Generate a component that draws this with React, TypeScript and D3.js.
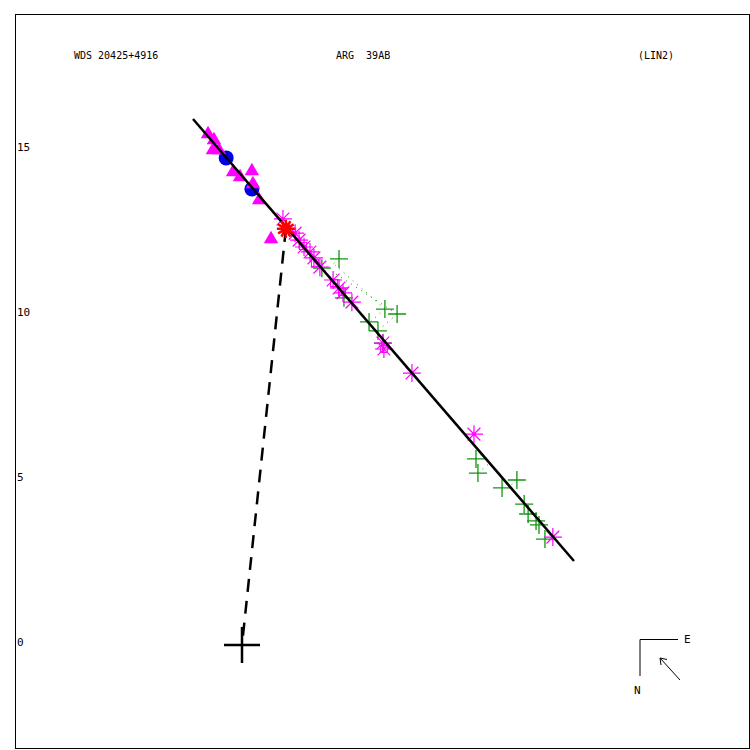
import React from 'react'
import * as d3 from 'd3'

const triangles: [number, number][] = [
  [-1.03, 15.48], [-0.85, 15.30], [-0.88, 15.00], [-0.70, 15.00], [-0.27, 14.33],
  [-0.06, 14.18], [0.30, 14.36], [0.33, 13.97], [0.52, 13.48], [0.88, 12.30],
]
const circles: [number, number][] = [[-0.48, 14.76], [0.30, 13.82]]
const asterisks: [number, number][] = [
  [1.24, 12.91], [1.61, 12.48], [1.73, 12.27], [1.88, 12.06], [2.06, 11.91],
  [2.18, 11.73], [2.36, 11.45], [2.76, 11.06], [2.94, 10.82], [3.06, 10.67],
  [3.33, 10.39], [4.27, 9.15], [4.30, 8.97], [5.15, 8.24], [7.03, 6.39], [9.42, 3.27],
]
const squares: [number, number][] = [
  [1.52, 12.52], [1.85, 12.09], [2.21, 11.58], [2.79, 10.97], [3.03, 10.70], [4.30, 8.97],
]
const crosses: [number, number][] = [
  [2.94, 11.70], [2.42, 11.42], [3.09, 10.52], [4.33, 10.18], [4.70, 10.03],
  [3.85, 9.79], [4.12, 9.52], [4.27, 9.15], [7.09, 5.64], [7.15, 5.21],
  [7.88, 4.76], [8.33, 5.00], [8.55, 4.27], [8.67, 3.97], [8.91, 3.76],
  [9.00, 3.64], [9.18, 3.21],
]
// long O-C residuals: observed -> predicted
const longResiduals: [[number, number], [number, number]][] = [
  [[4.33, 10.18], [2.82, 11.52]],
  [[4.70, 10.03], [2.76, 11.30]],
]
const redStar: [number, number] = [1.33, 12.61]
const orbitLine: [number, number][] = [[-1.485, 15.94], [10.06, 2.545]]
const yTicks = [0, 5, 10, 15]
const titles = ['WDS 20425+4916', 'ARG  39AB', '(LIN2)']

const x = d3.scaleLinear().domain([-7, 15]).range([11, 737])
const y = d3.scaleLinear().domain([-3, 19]).range([744, 18])

const MAGENTA = '#ff00ff'
const GREEN = '#129612'
const mono = '"DejaVu Sans Mono", monospace'

const asteriskPath = (r: number, arms: number) => {
  const p = d3.path()
  for (let i = 0; i < arms; i++) {
    const a = (Math.PI * i) / arms
    p.moveTo(-r * Math.cos(a), -r * Math.sin(a))
    p.lineTo(r * Math.cos(a), r * Math.sin(a))
  }
  return p.toString()
}

const foot = ([px, py]: [number, number]): [number, number] => {
  const [[ax, ay], [bx, by]] = orbitLine
  const dx = bx - ax, dy = by - ay
  const t = ((px - ax) * dx + (py - ay) * dy) / (dx * dx + dy * dy)
  return [ax + t * dx, ay + t * dy]
}

export default function App() {
  const tri = d3.symbol(d3.symbolTriangle, 90)()
  const line = d3.line<[number, number]>().x(d => x(d[0])).y(d => y(d[1]))
  const titleX = [74, 336, 638]
  return (
    <svg width={750} height={750} style={{position: 'fixed', left: 0, top: 0, background: '#fff'}}>
      <rect x={15.5} y={14.5} width={734} height={734} fill="#fff" stroke="#000" strokeWidth={1} />
      {titles.map((t, i) => (
        <text key={t} x={titleX[i]} y={59} fontFamily={mono} fontSize={10} fill="#000" style={{whiteSpace: 'pre'}}>{t}</text>
      ))}
      {yTicks.map(t => (
        <text key={t} x={17} y={y(t) + 1} fontFamily={mono} fontSize={11} fill="#000">{t}</text>
      ))}

      {/* residuals */}
      <g stroke={GREEN} strokeWidth={1} strokeDasharray="1,5" fill="none">
        {crosses.map((d, i) => {
          const f = foot(d)
          return <line key={i} x1={x(d[0])} y1={y(d[1])} x2={x(f[0])} y2={y(f[1])} />
        })}
        {longResiduals.map((r, i) => (
          <line key={'l' + i} x1={x(r[0][0])} y1={y(r[0][1])} x2={x(r[1][0])} y2={y(r[1][1])} />
        ))}
      </g>

      {circles.map((d, i) => (
        <circle key={i} cx={x(d[0])} cy={y(d[1])} r={7.5} fill="#0000e6" />
      ))}
      {triangles.map((d, i) => (
        <path key={i} d={tri!} transform={`translate(${x(d[0])},${y(d[1])})`} fill={MAGENTA} />
      ))}
      {crosses.map((d, i) => (
        <path key={i} d="M-9,0H9M0,-9V9" transform={`translate(${x(d[0])},${y(d[1])})`} stroke={GREEN} strokeWidth={1.3} fill="none" />
      ))}
      {squares.map((d, i) => (
        <rect key={i} x={x(d[0]) - 3.5} y={y(d[1]) - 3.5} width={7} height={7} stroke={MAGENTA} strokeWidth={1} fill="none" />
      ))}
      {asterisks.map((d, i) => (
        <path key={i} d={asteriskPath(9, 4)} transform={`translate(${x(d[0])},${y(d[1])})`} stroke={MAGENTA} strokeWidth={1.2} fill="none" />
      ))}

      <path d={line(orbitLine)!} stroke="#000" strokeWidth={2.5} fill="none" />
      <path d={line([redStar, [0, 0]])!} stroke="#000" strokeWidth={2.5} strokeDasharray="13,9" fill="none" />
      <path d="M-18,0H18M0,-18V18" transform={`translate(${x(0)},${y(0)})`} stroke="#000" strokeWidth={2.5} fill="none" />
      <path d={asteriskPath(9, 6)} transform={`translate(${x(redStar[0])},${y(redStar[1])})`} stroke="#ff0000" strokeWidth={2.5} fill="none" />
      <circle cx={x(redStar[0])} cy={y(redStar[1])} r={4.5} fill="#ff0000" />

      {/* compass */}
      <path d="M640,676V639.5H678" stroke="#000" strokeWidth={1} fill="none" />
      <text x={684} y={643} fontFamily={mono} fontSize={11} fill="#000">E</text>
      <text x={634} y={694} fontFamily={mono} fontSize={11} fill="#000">N</text>
      <path d="M680,680L660,658M660,658L667,659.5M660,658L661,665" stroke="#000" strokeWidth={1} fill="none" />
    </svg>
  )
}
